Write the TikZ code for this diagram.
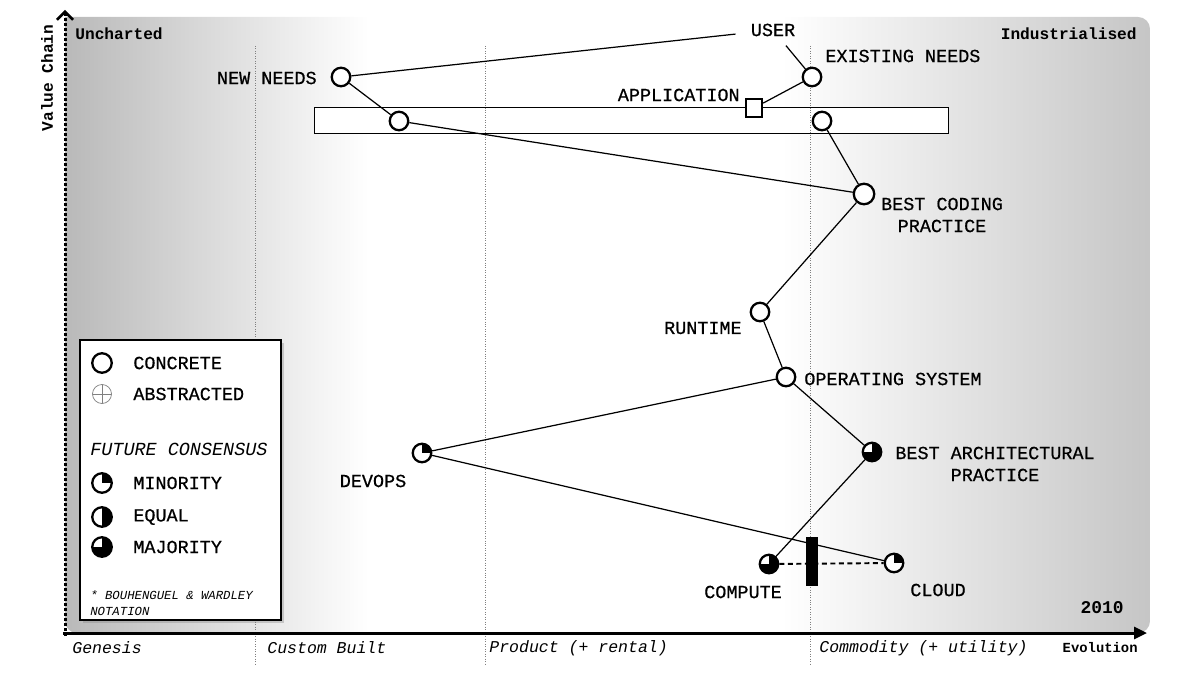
\documentclass[tikz,border=0pt]{standalone}
\usepackage{fontspec}
\setmonofont{Liberation Mono}
\newfontfamily\labelfont{Liberation Mono}[FakeBold=0.6]
\usepackage{tikz}
\usetikzlibrary{
	positioning,
	arrows.meta,
	shadows
}

\pgfdeclarehorizontalshading{evolution}{100bp}{
	color(0bp)=(gray!55); color(25bp)=(gray!55); color(39bp)=(white);
	color(58bp)=(white); color(75bp)=(gray!45); color(100bp)=(gray!45)}

\tikzset{
	comp/.style={circle,draw,line width=1.3pt,fill=white,minimum size=3.7mm,inner sep=0pt},
	minority/.style={comp,path picture={
		\fill[black] (path picture bounding box.center) rectangle (path picture bounding box.north east);}},
	equal/.style={comp,path picture={
		\fill[black] (path picture bounding box.south) rectangle (path picture bounding box.north east);}},
	majority/.style={comp,fill=black,path picture={
		\fill[white] (path picture bounding box.center) rectangle (path picture bounding box.north west);}},
	abstracted/.style={circle,draw=gray,thin,minimum size=3.8mm,inner sep=0pt,path picture={
		\draw[gray,thin] (path picture bounding box.north) -- (path picture bounding box.south)
			(path picture bounding box.west) -- (path picture bounding box.east);}},
	lbl/.style={font=\labelfont\fontsize{10.5}{12.5}\selectfont,inner sep=0pt},
	phase/.style={font=\ttfamily\itshape\fontsize{9.4}{11}\selectfont,inner sep=0pt,anchor=west},
	axislbl/.style={font=\ttfamily\bfseries\fontsize{9.2}{11}\selectfont,inner sep=0pt},
	stage/.style={gray,densely dotted,thin},
	link/.style={line width=0.7pt}
}

\begin{document}
\begin{tikzpicture}[x=0.2mm,y=-0.2mm]
		\useasboundingbox (0,0) rectangle (1200,675);

		% map background and value chain band
		\shade[shading=evolution] (65,633) -- (65,17) [rounded corners=2.4mm] -- (1150,17) -- (1150,633) -- (65,633) -- cycle;
		\draw[line width=0.5pt,fill=white] (314,107) rectangle (948,133);
		\foreach \x in {255,485,810}
			\draw[stage] (\x,46) -- (\x,665);

		% axes
		\draw[line width=0.6mm,dash pattern=on 0.6mm off 0.4mm,-{Straight Barb[length=1.6mm,width=3.2mm,line width=0.5mm]}] (65,636) -- (65,10);
		\draw[line width=0.6mm,-{Triangle[length=2.6mm,width=2.4mm]}] (63,633) -- (1147,633);

		\draw
			node [axislbl,rotate=90]             (vchain) at (47,78)    {Value Chain}
			node [axislbl,anchor=west]           (unch)   at (75,34)    {Uncharted}
			node [axislbl,anchor=east]           (indus)  at (1137,34)  {Industrialised}
			node [phase]                         (gen)    at (72,648)   {Genesis}
			node [phase]                         (cust)   at (267,648)  {Custom Built}
			node [phase]                         (prod)   at (489,648)  {Product (+ rental)}
			node [phase]                         (commod) at (819,648)  {Commodity (+ utility)}
			node [axislbl,anchor=east,font=\ttfamily\bfseries\fontsize{7.9}{9}\selectfont] (evo) at (1138,648) {Evolution}
			node [axislbl,anchor=east,font=\ttfamily\bfseries\fontsize{10.2}{12}\selectfont] (year) at (1124,608) {2010}
		;

		% legend
		\draw[line width=1.1pt,fill=white,drop shadow={opacity=0.35,shadow xshift=0.5mm,shadow yshift=-0.5mm}] (80,340) rectangle (281,620);
		\draw
			node [comp,minimum size=3.9mm] (lconc) at (102,363) {}
			node [abstracted]            (labs)   at (102,394) {}
			node [minority,minimum size=3.9mm] (lmin) at (102,483) {}
			node [equal,minimum size=3.9mm]    (leq)  at (102,517) {}
			node [majority,minimum size=3.9mm] (lmaj) at (102,547) {}
			node [lbl,anchor=west]       (tconc)  at (133,363) {CONCRETE}
			node [lbl,anchor=west]       (tabs)   at (133,394) {ABSTRACTED}
			node [lbl,anchor=west,font=\ttfamily\itshape\fontsize{10.5}{12.5}\selectfont] (tfut) at (90,449) {FUTURE CONSENSUS}
			node [lbl,anchor=west]       (tmin)   at (133,483) {MINORITY}
			node [lbl,anchor=west]       (teq)    at (133,517) {EQUAL}
			node [lbl,anchor=west]       (tmaj)   at (133,547) {MAJORITY}
			node [lbl,anchor=north west,align=left,font=\ttfamily\itshape\fontsize{7}{9.2}\selectfont] (tnote) at (90,590) {* BOUHENGUEL \& WARDLEY\\NOTATION}
		;

		% components
		\draw
			node [lbl,inner xsep=3mm,inner ysep=1.8mm] (user) at (773,30) {USER}
			node [comp]                  (newneeds) at (341,77)  {}
			node [comp]                  (existing) at (812,77)  {}
			node [rectangle,draw,line width=1.3pt,fill=white,minimum width=3.2mm,minimum height=3.6mm,inner sep=0pt] (app) at (754,108) {}
			node [comp]                  (newapp)   at (399,121) {}
			node [comp]                  (oldapp)   at (822,121) {}
			node [comp,minimum size=4.1mm] (coding) at (864,194) {}
			node [comp]                  (runtime)  at (760,312) {}
			node [comp]                  (os)       at (786,377) {}
			node [minority]              (devops)   at (422,453) {}
			node [majority]              (arch)     at (872,452) {}
			node [majority]              (compute)  at (769,564) {}
			node [minority]              (cloud)    at (894,563) {}

			node [lbl,anchor=east]            at (317,78)  {NEW NEEDS}
			node [lbl,anchor=west]            at (825,56)  {EXISTING NEEDS}
			node [lbl,anchor=east]            at (740,95)  {APPLICATION}
			node [lbl,align=center]           at (942,215) {BEST CODING\\PRACTICE}
			node [lbl,anchor=east]            at (742,328) {RUNTIME}
			node [lbl,anchor=west]            at (804,379) {OPERATING SYSTEM}
			node [lbl]                        at (373,481) {DEVOPS}
			node [lbl,align=center]           at (995,464) {BEST ARCHITECTURAL\\PRACTICE}
			node [lbl]                        at (743,592) {COMPUTE}
			node [lbl]                        at (938,590) {CLOUD}
		;

		\fill (806,537) rectangle (818,586);

		\draw[link] (newneeds) -- (user);
		\draw[link] (user) -- (existing);
		\draw[link] (app) -- (existing);
		\draw[link] (newneeds) -- (newapp);
		\draw[link] (newapp) -- (coding);
		\draw[link] (oldapp) -- (coding);
		\draw[link] (coding) -- (runtime);
		\draw[link] (runtime) -- (os);
		\draw[link] (os) -- (devops);
		\draw[link] (os) -- (arch);
		\draw[link] (arch) -- (compute);
		\draw[link] (devops) -- (cloud);
		\draw[line width=1.1pt,dash pattern=on 1mm off 0.7mm] (compute) -- (cloud);
    \end{tikzpicture}
\end{document}
